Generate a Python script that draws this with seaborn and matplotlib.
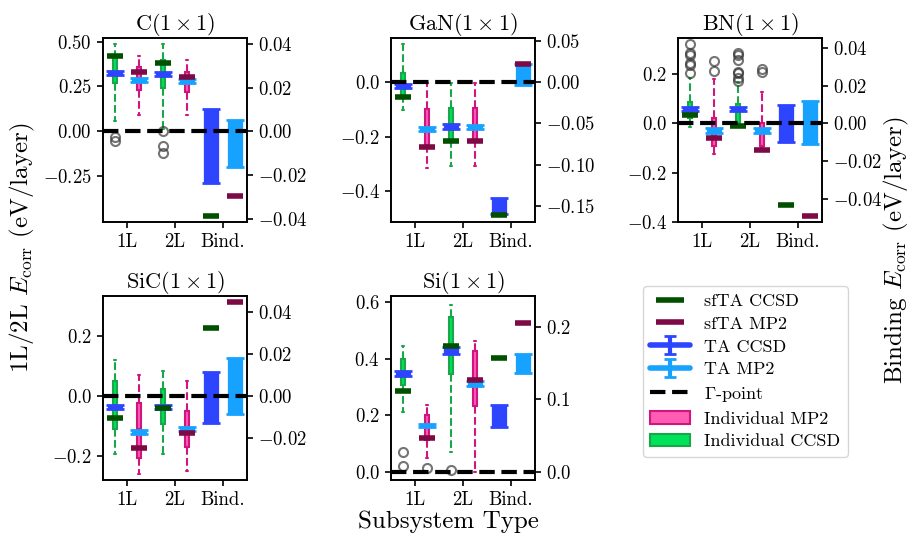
import numpy as np
import matplotlib
matplotlib.use("Agg")
import matplotlib.pyplot as plt
import seaborn as sns
from matplotlib.lines import Line2D
from matplotlib.patches import Patch

# systems and their panel titles
systems = ['C', 'GaN', 'BN', 'SiC', 'Si']
titles = [r'C$(1\times 1)$', r'GaN$(1\times 1)$', r'BN$(1\times 1)$', r'SiC$(1\times 1)$', r'Si$(1\times 1)$']
xlabels = ['1L', '2L', 'Bind.']

# individual twist boxes, order per system: 1L CCSD, 1L MP2, 2L CCSD, 2L MP2
box_whishi = [[0.487, 0.42, 0.487, 0.40],
              [0.141, -0.004, -0.004, -0.004],
              [0.182, 0.178, 0.168, 0.128],
              [0.121, 0.071, 0.085, 0.05],
              [0.444, 0.237, 0.59, 0.463]]
box_q3 = [[0.41, 0.36, 0.40, 0.333],
          [0.033, -0.10, -0.096, -0.096],
          [0.087, 0.02, 0.078, 0.0],
          [0.05, -0.022, 0.024, -0.05],
          [0.40, 0.201, 0.545, 0.427]]
box_med = [[0.33, 0.29, 0.32, 0.28],
           [-0.01, -0.17, -0.16, -0.16],
           [0.05, -0.04, 0.05, -0.04],
           [-0.03, -0.11, -0.035, -0.11],
           [0.35, 0.165, 0.43, 0.32]]
box_q1 = [[0.27, 0.23, 0.24, 0.22],
          [-0.047, -0.231, -0.212, -0.212],
          [0.02, -0.094, 0.0, -0.094],
          [-0.112, -0.209, -0.094, -0.17],
          [0.307, 0.114, 0.346, 0.233]]
box_whislo = [[0.06, 0.093, 0.013, 0.093],
              [-0.102, -0.314, -0.307, -0.307],
              [-0.014, -0.124, -0.008, -0.10],
              [-0.193, -0.262, -0.196, -0.251],
              [0.213, 0.049, 0.072, 0.002]]
box_fliers = [[[-0.031, -0.055], [], [0.0, -0.083, -0.12], []],
              [[], [], [], []],
              [[0.32, 0.283, 0.276, 0.242, 0.236, 0.202], [0.253, 0.213],
               [0.285, 0.276, 0.256, 0.209, 0.202, 0.182, 0.172], [0.218, 0.209]],
              [[], [], [], []],
              [[0.072, 0.022], [0.014], [0.008], []]]

# twist averaged / special twist values per layer (same order)
ta_layer = [[0.324, 0.287, 0.32, 0.283],
            [-0.014, -0.172, -0.163, -0.165],
            [0.058, -0.03, 0.058, -0.03],
            [-0.038, -0.12, -0.036, -0.112],
            [0.348, 0.164, 0.427, 0.313]]
ta_layer_err = [[0.011, 0.011, 0.011, 0.011],
                [0.008, 0.008, 0.008, 0.008],
                [0.009, 0.009, 0.009, 0.009],
                [0.007, 0.007, 0.007, 0.007],
                [0.008, 0.006, 0.012, 0.008]]
sfta_layer = [[0.417, 0.333, 0.38, 0.305],
              [-0.053, -0.237, -0.215, -0.215],
              [0.034, -0.058, -0.01, -0.108],
              [-0.075, -0.173, -0.041, -0.125],
              [0.287, 0.12, 0.444, 0.325]]

# binding energies (right axis): CCSD, MP2
ta_bind = [[-0.0067, -0.0057], [-0.1507, 0.0093], [0.0, 0.0004], [-0.0007, 0.0046], [0.077, 0.1497]]
ta_bind_err = [[0.017, 0.0107], [0.010, 0.0127], [0.0097, 0.0116], [0.012, 0.0133], [0.0153, 0.0128]]
sfta_bind = [[-0.0386, -0.0295], [-0.161, 0.022], [-0.0434, -0.049], [0.0322, 0.0446], [0.1566, 0.2047]]

# axis ranges / ticks
left_lim = [(-0.505, 0.52), (-0.514, 0.163), (-0.399, 0.345), (-0.282, 0.336), (-0.027, 0.62)]
right_lim = [(-0.0414, 0.0426), (-0.170, 0.054), (-0.0524, 0.0453), (-0.040, 0.0476), (-0.0106, 0.242)]
left_ticks = [[-0.25, 0.0, 0.25, 0.5], [-0.4, -0.2, 0.0], [-0.4, -0.2, 0.0, 0.2], [-0.2, 0.0, 0.2], [0.0, 0.2, 0.4, 0.6]]
right_ticks = [[-0.04, -0.02, 0.0, 0.02, 0.04], [-0.15, -0.10, -0.05, 0.0, 0.05],
               [-0.04, -0.02, 0.0, 0.02, 0.04], [-0.02, 0.0, 0.02, 0.04], [0.0, 0.1, 0.2]]

# colours
green, green_edge = '#00e25a', '#1aa64a'
pink, pink_edge = '#ff5cb4', '#d0157f'
dkgreen, maroon = '#005000', '#7d0a45'
blue, ltblue = '#2e45ff', '#17a2ff'

sns.set_style('ticks')
plt.rcParams.update({
    'font.family': ['cmr10', 'DejaVu Serif'],
    'mathtext.fontset': 'cm',
    'axes.formatter.use_mathtext': True,
    'axes.edgecolor': 'black',
    'axes.linewidth': 1.2,
    'xtick.color': 'black', 'ytick.color': 'black',
    'xtick.major.size': 4.5, 'ytick.major.size': 4.5,
    'xtick.major.width': 1.2, 'ytick.major.width': 1.2,
    'xtick.labelsize': 13.5, 'ytick.labelsize': 13.5,
    'text.color': 'black',
})

fig = plt.figure(figsize=(9.15, 5.44), dpi=100)
W, H = 915, 544
rects = []
for (lx, ty) in [(103, 38), (391, 38), (678, 38), (103, 296), (391, 296)]:
    rects.append([lx / W, 1 - (ty + 184) / H, 144 / W, 184 / H])

pos_layer = [-0.25, 0.25, 0.75, 1.25]
pos_bind = [1.75, 2.25]

for i, name in enumerate(systems):
    ax = fig.add_axes(rects[i])
    ax2 = ax.twinx()
    stats = []
    for j in range(4):
        stats.append(dict(whislo=box_whislo[i][j], q1=box_q1[i][j], med=box_med[i][j],
                          q3=box_q3[i][j], whishi=box_whishi[i][j], fliers=box_fliers[i][j]))
    for idx, fc, ec in [([0, 2], green, green_edge), ([1, 3], pink, pink_edge)]:
        ax.bxp([stats[k] for k in idx], positions=[pos_layer[k] for k in idx], widths=0.09,
               capwidths=0.05, patch_artist=True, manage_ticks=False,
               boxprops=dict(facecolor=fc, edgecolor=ec, lw=1.5),
               whiskerprops=dict(color=ec, ls='--', lw=1.5),
               capprops=dict(color=ec, lw=1.5),
               medianprops=dict(color=ec, lw=1.5),
               flierprops=dict(marker='o', mfc='none', mec='#3a3a3a', ms=6.5, mew=1.5, alpha=0.7))
    for idx, col in [([0, 2], blue), ([1, 3], ltblue)]:
        ax.errorbar([pos_layer[k] for k in idx], [ta_layer[i][k] for k in idx],
                    yerr=[ta_layer_err[i][k] for k in idx], fmt='none', ecolor=col,
                    elinewidth=11, capsize=6.5, capthick=2, zorder=4)
    for idx, col in [([0, 2], dkgreen), ([1, 3], maroon)]:
        ax.plot([pos_layer[k] for k in idx], [sfta_layer[i][k] for k in idx], ls='none',
                marker='_', ms=11, mew=4, color=col, zorder=5)
    # binding on the right axis
    for k, col in enumerate([blue, ltblue]):
        ax2.errorbar([pos_bind[k]], [ta_bind[i][k]], yerr=[ta_bind_err[i][k]], fmt='none',
                     ecolor=col, elinewidth=11, capsize=6.5, capthick=2, zorder=4)
    for k, col in enumerate([dkgreen, maroon]):
        ax2.plot([pos_bind[k]], [sfta_bind[i][k]], ls='none', marker='_', ms=11, mew=4,
                 color=col, zorder=5)
    ax2.axhline(0, color='black', ls='--', lw=3, zorder=10)

    ax.set_xlim(-0.5, 2.5)
    ax.set_xticks([0, 1, 2])
    ax.set_xticklabels(xlabels)
    ax.set_ylim(*left_lim[i])
    ax.set_yticks(left_ticks[i])
    ax2.set_ylim(*right_lim[i])
    ax2.set_yticks(right_ticks[i])
    ax.set_title(titles[i], fontsize=16)

# legend
ta_c = fig.axes[-1].errorbar([np.nan], [np.nan], yerr=[np.nan], fmt='-', color=blue, lw=4,
                             elinewidth=3, capsize=4, capthick=2)
ta_m = fig.axes[-1].errorbar([np.nan], [np.nan], yerr=[np.nan], fmt='-', color=ltblue, lw=4,
                             elinewidth=3, capsize=4, capthick=2)
handles = [Line2D([], [], ls='none', marker='_', ms=20, mew=4, color=dkgreen),
           Line2D([], [], ls='none', marker='_', ms=20, mew=4, color=maroon),
           ta_c, ta_m,
           Line2D([], [], color='black', ls='--', lw=3),
           Patch(facecolor=pink, edgecolor=pink_edge, lw=1.5),
           Patch(facecolor=green, edgecolor=green_edge, lw=1.5)]
labels = ['sfTA CCSD', 'sfTA MP2', 'TA CCSD', 'TA MP2', r'$\Gamma$-point', 'Individual MP2', 'Individual CCSD']
fig.legend(handles, labels, loc='upper left', bbox_to_anchor=(643 / W, 1 - 286 / H),
           fontsize=13, frameon=True, handlelength=2.2, borderaxespad=0, labelspacing=0.4)

fig.text(0.024, 0.545, r'1L/2L $E_{\rm corr}$ (eV/layer)', rotation=90, ha='center', va='center', fontsize=18)
fig.text(0.98, 0.54, r'Binding $E_{\rm corr}$ (eV/layer)', rotation=90, ha='center', va='center', fontsize=18)
fig.text(0.49, 0.04, 'Subsystem Type', ha='center', va='center', fontsize=18)

fig.savefig('out.png', dpi=100)
